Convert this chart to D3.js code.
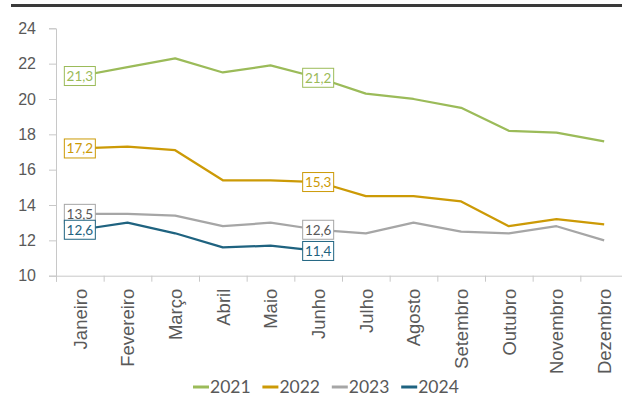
<!DOCTYPE html>
<html>
<head>
<meta charset="utf-8">
<script src="https://cdn.jsdelivr.net/npm/d3@7"></script>
<style>
  body { margin: 0; background: #fff; }
  svg { display: block; font-family: Lato, "Open Sans", sans-serif; }
</style>
</head>
<body>
<svg class="chart_svg" width="622" height="402"></svg>
<script>
/* Data */
let months = ["Janeiro", "Fevereiro", "Março", "Abril", "Maio", "Junho",
              "Julho", "Agosto", "Setembro", "Outubro", "Novembro", "Dezembro"];
let years = ["2021", "2022", "2023", "2024"];
let v2021 = [21.3, 21.8, 22.3, 21.5, 21.9, 21.2, 20.3, 20.0, 19.5, 18.2, 18.1, 17.6];
let v2022 = [17.2, 17.3, 17.1, 15.4, 15.4, 15.3, 14.5, 14.5, 14.2, 12.8, 13.2, 12.9];
let v2023 = [13.5, 13.5, 13.4, 12.8, 13.0, 12.6, 12.4, 13.0, 12.5, 12.4, 12.8, 12.0];
let v2024 = [12.6, 13.0, 12.4, 11.6, 11.7, 11.4];
let y_ticks = [10, 12, 14, 16, 18, 20, 22, 24];
let labelled_months = ["Janeiro", "Junho"];

let colors = ["#9BBB59", "#CC9A06", "#A6A6A6", "#1F6380"];
let label_text_colors = ["#9BBB59", "#CC9A06", "#595959", "#1F6380"];
let axis_color = "#C8C8C8";
let text_color = "#595959";

let series = [v2021, v2022, v2023, v2024].map(function(vals, i){
    return {
        year: years[i],
        color: colors[i],
        text_color: label_text_colors[i],
        values: vals.map(function(v, j){ return {month: months[j], value: v}; })
    };
});

let svg = d3.select("svg.chart_svg");

/* Top rule */
svg.append("line")
    .attr("x1", 11).attr("x2", 622)
    .attr("y1", 5.5).attr("y2", 5.5)
    .attr("stroke", "#3A3A3A").attr("stroke-width", 3);

/* Scales */
let x = d3.scaleBand().domain(months).range([56, 628]).padding(0);
let x_edges = d3.scaleLinear().domain([0, months.length]).range([56, 628]);
let y = d3.scaleLinear().domain([10, 24]).range([275.7, 28.3]);
let cx = function(m){ return x(m) + x.bandwidth() / 2; };

/* Y axis */
let y_axis = svg.append("g")
    .attr("transform", "translate(56,0)")
    .call(d3.axisLeft(y).tickValues(y_ticks).tickSize(7).tickPadding(13).tickFormat(d3.format("d")));
y_axis.select(".domain").attr("stroke", axis_color);
y_axis.selectAll(".tick line").attr("stroke", axis_color);
y_axis.selectAll(".tick text")
    .attr("fill", text_color)
    .style("font-size", "16px");

/* X axis: ticks between categories */
let x_ticks = svg.append("g")
    .attr("transform", "translate(0,275.7)")
    .call(d3.axisBottom(x_edges).tickValues(d3.range(months.length + 1)).tickSize(6).tickFormat(""));
x_ticks.select(".domain").attr("stroke", axis_color);
x_ticks.selectAll(".tick line").attr("stroke", axis_color);

/* X axis labels, rotated */
let x_labels = svg.append("g")
    .attr("transform", "translate(0,275.7)")
    .call(d3.axisBottom(x).tickSize(0));
x_labels.select(".domain").remove();
x_labels.selectAll(".tick text")
    .attr("transform", "rotate(-90)")
    .attr("text-anchor", "end")
    .attr("x", -13)
    .attr("y", 0)
    .attr("dy", "0.36em")
    .attr("fill", text_color)
    .style("font-size", "18.5px");

/* Lines */
let line = d3.line()
    .x(function(d){ return cx(d.month); })
    .y(function(d){ return y(d.value); });

svg.selectAll("path.series")
    .data(series)
    .enter()
    .append("path")
    .attr("class", "series")
    .attr("fill", "none")
    .attr("stroke", function(s){ return s.color; })
    .attr("stroke-width", 2.25)
    .attr("stroke-linejoin", "round")
    .attr("d", function(s){ return line(s.values); });

/* Data labels (Janeiro & Junho) */
let fmt = function(v){ return d3.format(".1f")(v).replace(".", ","); };
series.forEach(function(s){
    s.values.filter(function(d){ return labelled_months.indexOf(d.month) !== -1; })
        .forEach(function(d){
            let g = svg.append("g")
                .attr("transform", "translate(" + cx(d.month) + "," + y(d.value) + ")");
            g.append("rect")
                .attr("x", -15.5).attr("y", -9.5)
                .attr("width", 31).attr("height", 19)
                .attr("fill", "#fff")
                .attr("stroke", s.color)
                .attr("stroke-width", 1);
            g.append("text")
                .attr("text-anchor", "middle")
                .attr("dy", "0.36em")
                .attr("fill", s.text_color)
                .style("font-size", "13.5px")
                .text(fmt(d.value));
        });
});

/* Legend */
let legend = svg.append("g").attr("transform", "translate(193,387)");
let items = legend.selectAll("g")
    .data(series)
    .enter()
    .append("g")
    .attr("transform", function(s, i){ return "translate(" + (i * 69.4) + ",0)"; });
items.append("line")
    .attr("x1", 0).attr("x2", 16)
    .attr("stroke", function(s){ return s.color; })
    .attr("stroke-width", 3);
items.append("text")
    .attr("x", 17)
    .attr("dy", "0.36em")
    .attr("fill", text_color)
    .style("font-size", "17.5px")
    .text(function(s){ return s.year; });
</script>
</body>
</html>
